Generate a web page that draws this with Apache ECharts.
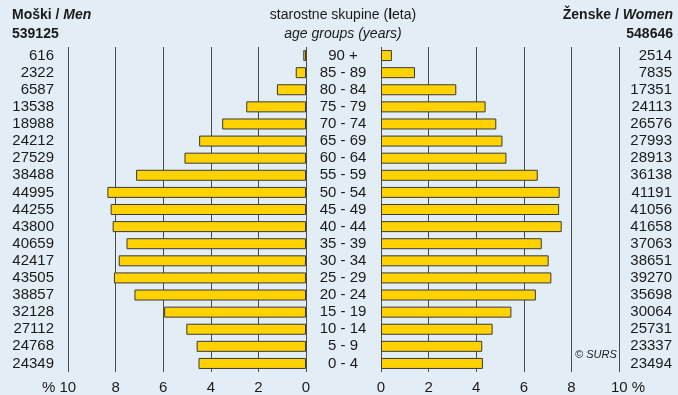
<!DOCTYPE html>
<html>
<head>
<meta charset="utf-8">
<script src="https://cdn.jsdelivr.net/npm/echarts@6/dist/echarts.min.js"></script>
<style>
html,body{margin:0;padding:0;background:#E2EDF5;}
#c{width:678px;height:395px;}
</style>
</head>
<body>
<div id="c"></div>
<script>
const ageGroups = ['90 +','85 - 89','80 - 84','75 - 79','70 - 74','65 - 69','60 - 64','55 - 59','50 - 54','45 - 49','40 - 44','35 - 39','30 - 34','25 - 29','20 - 24','15 - 19','10 - 14','5 - 9','0 - 4'];
const menCounts = [616,2322,6587,13538,18988,24212,27529,38488,44995,44255,43800,40659,42417,43505,38857,32128,27112,24768,24349];
const womenCounts = [2514,7835,17351,24113,26576,27993,28913,36138,41191,41056,41658,37063,38651,39270,35698,30064,25731,23337,23494];
const menTotal = 539125;
const womenTotal = 548646;

const menPct = menCounts.map(v => v / menTotal * 100);
const womenPct = womenCounts.map(v => v / womenTotal * 100);

const FONT = '"Liberation Sans", Arial, sans-serif';
const TXT = '#1a1a1a';
const GRIDC = '#4a4a4a';

const chart = echarts.init(document.getElementById('c'), null, {renderer:'canvas'});

function xAxisCfg(gi, inverse, side) {
  return {
    type:'value', gridIndex:gi, inverse:inverse, min:0, max:10, interval:2,
    axisLine:{show:false}, axisTick:{show:false},
    splitLine:{show:true, showMinLine:true, showMaxLine:true, lineStyle:{color:GRIDC, width:1}},
    axisLabel:{
      margin:8, color:TXT, fontFamily:FONT, fontSize:15,
      formatter: v => v === 10 ? (side === 'L' ? '{l|% 10}' : '{r|10 %}') : String(v),
      rich:{
        l:{padding:[0,18,0,0], fontFamily:FONT, fontSize:15, color:TXT},
        r:{padding:[0,0,0,18], fontFamily:FONT, fontSize:15, color:TXT}
      }
    }
  };
}

function hdr(x, y, align, text, rich) {
  return {type:'text', x:x, y:y, style:{text:text, align:align, verticalAlign:'top', rich:rich, fill:TXT}};
}

const boldRich = {
  b:{fontFamily:FONT, fontWeight:'bold', fontSize:14, fill:TXT, color:TXT, lineHeight:19},
  bi:{fontFamily:FONT, fontWeight:'bold', fontStyle:'italic', fontSize:14, fill:TXT, color:TXT, lineHeight:19}
};
const centerRich = {
  n:{fontFamily:FONT, fontSize:14, fill:TXT, color:TXT, lineHeight:19},
  nb:{fontFamily:FONT, fontSize:14, fontWeight:'bold', fill:TXT, color:TXT, lineHeight:19},
  i:{fontFamily:FONT, fontSize:14, fontStyle:'italic', fill:TXT, color:TXT, lineHeight:19}
};

const option = {
  backgroundColor:'#E2EDF5',
  animation:false,
  graphic:[
    hdr(12, 6, 'left', '{b|Moški / }{bi|Men}', boldRich),
    hdr(12, 25, 'left', '{b|' + menTotal + '}', boldRich),
    hdr(343, 6, 'center', '{n|starostne skupine (}{nb|l}{n|eta)}', centerRich),
    hdr(343, 25, 'center', '{i|age groups (years)}', centerRich),
    hdr(673, 6, 'right', '{b|Ženske / }{bi|Women}', boldRich),
    hdr(673, 25, 'right', '{b|' + womenTotal + '}', boldRich),
    {type:'text', x:575, y:349, style:{text:'© SURS', font:'italic 11px "Liberation Sans", Arial, sans-serif', fill:TXT}}
  ],
  grid:[
    {left:68, width:238, top:47, height:325},
    {left:381, width:238, top:47, height:325}
  ],
  xAxis:[ xAxisCfg(0, true, 'L'), xAxisCfg(1, false, 'R') ],
  yAxis:[
    {type:'category', gridIndex:0, data:ageGroups, inverse:true, position:'left',
     axisLine:{show:false}, axisTick:{show:false},
     axisLabel:{interval:0, margin:14, color:TXT, fontFamily:FONT, fontSize:15, formatter:(v,i)=>String(menCounts[i])}},
    {type:'category', gridIndex:1, data:ageGroups, inverse:true, position:'left',
     axisLine:{show:false}, axisTick:{show:false},
     axisLabel:{interval:0, margin:38, align:'center', color:TXT, fontFamily:FONT, fontSize:15}},
    {type:'category', gridIndex:1, data:ageGroups, inverse:true, position:'right',
     axisLine:{show:false}, axisTick:{show:false},
     axisLabel:{interval:0, margin:53, align:'right', color:TXT, fontFamily:FONT, fontSize:15, formatter:(v,i)=>String(womenCounts[i])}}
  ],
  series:[
    {type:'bar', xAxisIndex:0, yAxisIndex:0, data:menPct, barWidth:11,
     itemStyle:{color:'#FFD200', borderColor:'#3a3a3a', borderWidth:1}},
    {type:'bar', xAxisIndex:1, yAxisIndex:1, data:womenPct, barWidth:11,
     itemStyle:{color:'#FFD200', borderColor:'#3a3a3a', borderWidth:1}}
  ]
};
chart.setOption(option);
</script>
</body>
</html>
